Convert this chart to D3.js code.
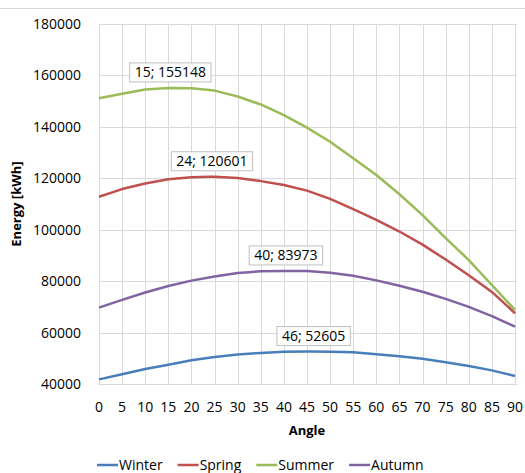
<!DOCTYPE html>
<html><head><meta charset="utf-8">
<script src="https://cdn.jsdelivr.net/npm/d3@7"></script>
<style>
body{margin:0;background:#fff;}
svg{display:block;font-family:"Open Sans",Lato,sans-serif;}
</style></head><body>
<svg id="c" width="525" height="473"></svg>
<script>
const angles = [0,5,10,15,20,25,30,35,40,45,50,55,60,65,70,75,80,85,90];
const winter = [41800,43800,45800,47500,49200,50500,51500,52100,52500,52600,52500,52300,51600,50800,49800,48500,47000,45300,43100];
const spring = [112800,115800,118000,119600,120400,120550,120100,118900,117400,115200,112000,108000,103800,99300,94200,88400,82300,75800,67500];
const summer = [151100,152900,154500,155148,155000,154100,151800,148700,144600,139700,134200,127800,121300,113800,105700,96700,88200,78500,68800];
const autumn = [69700,72700,75600,78100,80200,81800,83200,83800,83973,83900,83300,82100,80300,78200,75900,73100,70000,66400,62300];
const seriesNames = ["Winter","Spring","Summer","Autumn"];
const seriesColors = ["#4a7ebb","#c0504d","#9bbb59","#8064a2"];
const peakAngles = [46,24,15,40];
const peakValues = [52605,120601,155148,83973];
const xTicks = d3.range(0,91,5);
const yTicks = [40000,60000,80000,100000,120000,140000,160000,180000];

const svg = d3.select("#c");
const x = d3.scaleLinear().domain([0,90]).range([99,515]);
const y = d3.scaleLinear().domain([40000,180000]).range([384,24]);

// top border
svg.append("line").attr("x1",0).attr("x2",525).attr("y1",8.5).attr("y2",8.5).attr("stroke","#d9d9d9");

// grid
svg.append("g").selectAll("line").data(yTicks).join("line")
  .attr("x1",99).attr("x2",517).attr("y1",d=>Math.round(y(d))+0.5).attr("y2",d=>Math.round(y(d))+0.5)
  .attr("stroke","#d9d9d9").attr("stroke-width",1);
svg.append("g").selectAll("line").data(xTicks).join("line")
  .attr("y1",24).attr("y2",384).attr("x1",d=>Math.round(x(d))+0.5).attr("x2",d=>Math.round(x(d))+0.5)
  .attr("stroke","#d9d9d9").attr("stroke-width",1);

// axis labels
svg.append("g").selectAll("text").data(yTicks).join("text")
  .attr("x",81).attr("y",d=>y(d)+5).attr("text-anchor","end")
  .attr("font-size",14).attr("fill","#000").text(d=>d);
svg.append("g").selectAll("text").data(xTicks).join("text")
  .attr("x",d=>x(d)).attr("y",412).attr("text-anchor","middle")
  .attr("font-size",14).attr("fill","#000").text(d=>d);
svg.append("text").attr("x",307).attr("y",435).attr("text-anchor","middle")
  .attr("font-size",13).attr("font-weight","bold").text("Angle");
svg.append("text").attr("transform","translate(21,204) rotate(-90)").attr("text-anchor","middle")
  .attr("font-size",13).attr("font-weight","bold").text("Energy [kWh]");

// lines
const allSeries = [winter,spring,summer,autumn];
const line = d3.line().x(d=>x(d[0])).y(d=>y(d[1]));
allSeries.forEach((vals,i)=>{
  let pts = angles.map((a,j)=>[a,vals[j]]);
  if(!angles.includes(peakAngles[i])) pts.push([peakAngles[i],peakValues[i]]);
  pts.sort((a,b)=>a[0]-b[0]);
  svg.append("path").datum(pts).attr("d",line).attr("fill","none")
    .attr("stroke",seriesColors[i]).attr("stroke-width",2.5).attr("stroke-linejoin","round");
});

// data labels
peakAngles.forEach((a,i)=>{
  const g = svg.append("g");
  const cx = x(a)+2, by = y(peakValues[i])-6;
  const t = g.append("text").attr("x",cx).attr("y",by-5).attr("text-anchor","middle")
    .attr("font-size",14).attr("fill","#000").text(a+"; "+peakValues[i]);
  const w = t.node().getComputedTextLength()+10;
  g.insert("rect","text").attr("x",cx-w/2).attr("y",by-19).attr("width",w).attr("height",19)
    .attr("fill","#fff").attr("stroke","#bfbfbf").attr("stroke-width",1);
});

// legend
let lx = 97;
seriesNames.forEach((n,i)=>{
  svg.append("line").attr("x1",lx).attr("x2",lx+21).attr("y1",465).attr("y2",465)
    .attr("stroke",seriesColors[i]).attr("stroke-width",2.5);
  const t = svg.append("text").attr("x",lx+22).attr("y",470).attr("font-size",14).text(n);
  lx += 22 + t.node().getComputedTextLength() + 15;
});
</script></body></html>
